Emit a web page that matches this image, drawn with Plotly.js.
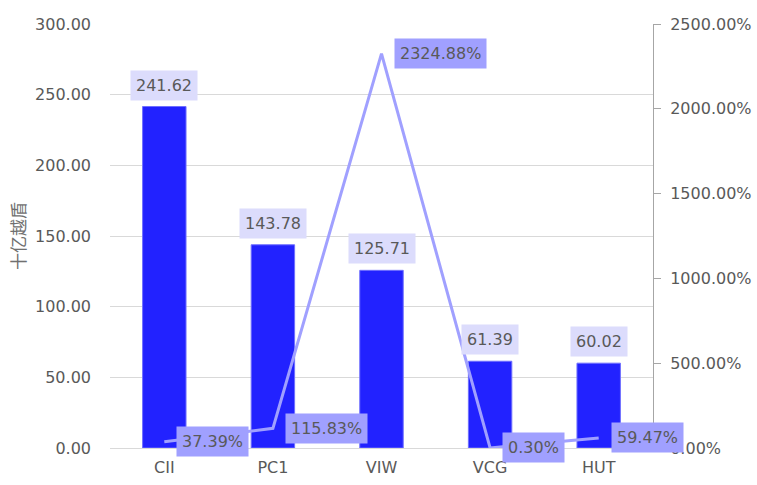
<!DOCTYPE html>
<html>
<head>
<meta charset="utf-8">
<script src="https://cdn.plot.ly/plotly-3.0.1.min.js"></script>
<style>html,body{margin:0;padding:0;background:#fff;}#chart{width:757px;height:485px;}</style>
</head>
<body>
<div id="chart"></div>
<script>
const categories = ["CII", "PC1", "VIW", "VCG", "HUT"];
const barValues = [241.62, 143.78, 125.71, 61.39, 60.02];
const lineValues = [37.39, 115.83, 2324.88, 0.30, 59.47];
const yTitle = "十亿越盾";

const FONT = "DejaVu Sans, Verdana, sans-serif";
const GREY = "#595959";

const bars = {
  type: "bar", x: categories, y: barValues, yaxis: "y",
  marker: {color: "#2222ff", line: {color: "#6f6fff", width: 1}},
  width: 0.4, hoverinfo: "skip", showlegend: false
};
const line = {
  type: "scatter", mode: "lines", x: categories, y: lineValues, yaxis: "y2",
  line: {color: "#a0a0ff", width: 3}, hoverinfo: "skip", showlegend: false, cliponaxis: false
};

const annotations = [];
categories.forEach((c, i) => {
  annotations.push({
    x: c, y: barValues[i], xref: "x", yref: "y",
    text: barValues[i].toFixed(2), showarrow: false,
    yanchor: "bottom", xanchor: "center", yshift: 6,
    bgcolor: "#dcdcfc", borderpad: 5,
    font: {family: FONT, size: 16, color: GREY}
  });
  annotations.push({
    x: c, y: lineValues[i], xref: "x", yref: "y2",
    text: lineValues[i].toFixed(2) + "%", showarrow: false,
    yanchor: "middle", xanchor: "left", xshift: 12,
    bgcolor: "#a0a0ff", borderpad: 5,
    font: {family: FONT, size: 16, color: GREY}
  });
});

const layout = {
  width: 757, height: 485,
  margin: {l: 110, r: 104, t: 24, b: 37},
  paper_bgcolor: "#fff", plot_bgcolor: "#fff",
  font: {family: FONT, size: 16, color: GREY},
  xaxis: {
    type: "category", range: [-0.5, 4.5], autorange: false,
    showgrid: false, zeroline: false,
    showline: false, ticks: "", ticklabelstandoff: 8,
    tickfont: {family: FONT, size: 16, color: GREY}
  },
  yaxis: {
    range: [0, 300], autorange: false, dtick: 50, tickformat: ".2f",
    showgrid: true, gridcolor: "#d9d9d9", gridwidth: 1,
    zeroline: true, zerolinecolor: "#d9d9d9", zerolinewidth: 1,
    showline: false, ticks: "", ticklabelstandoff: 18,
    tickfont: {family: FONT, size: 16, color: GREY},
    title: {text: yTitle, font: {family: "Noto Sans CJK SC, sans-serif", size: 17, color: "#707070"}, standoff: 5}
  },
  yaxis2: {
    overlaying: "y", side: "right", range: [0, 2500], autorange: false, dtick: 500,
    tickformat: ".2f", ticksuffix: "%",
    showgrid: false, zeroline: false,
    showline: true, linecolor: "#a6a6a6", linewidth: 1,
    ticks: "outside", ticklen: 7, tickcolor: "#a6a6a6", ticklabelstandoff: 6,
    tickfont: {family: FONT, size: 16, color: GREY}
  },
  annotations: annotations
};

Plotly.newPlot("chart", [bars, line], layout, {displayModeBar: false, staticPlot: true});
</script>
</body>
</html>
